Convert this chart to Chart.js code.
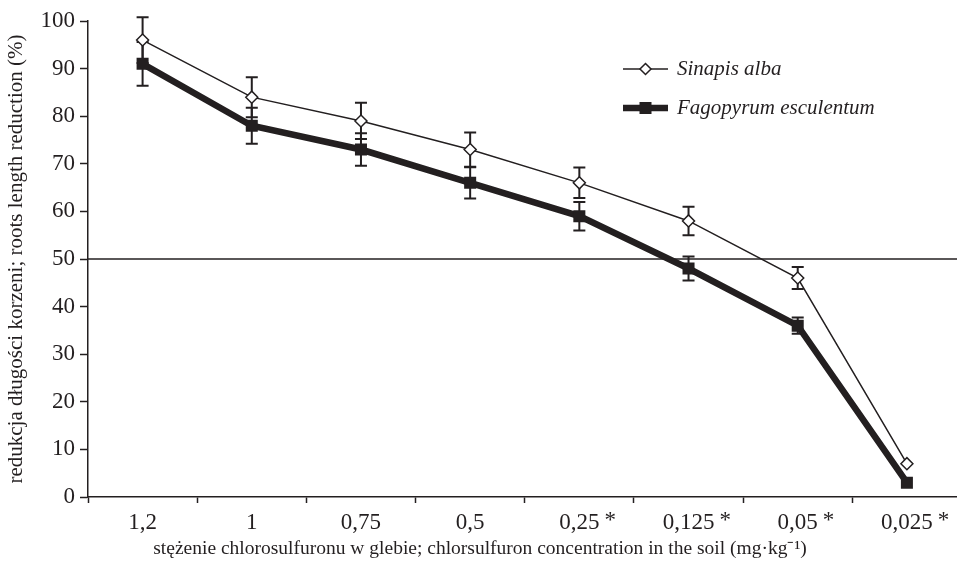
<!DOCTYPE html>
<html>
<head>
<meta charset="utf-8">
<script src="https://cdn.jsdelivr.net/npm/chart.js@4/dist/chart.umd.min.js"></script>
<style>
    html, body { margin: 0; padding: 0; background: #fff; overflow: hidden; }
    #wrap { width: 957px; height: 574px; overflow: hidden; }
</style>
</head>
<body>
<div id="wrap"><canvas id="rootChart" width="970" height="574"></canvas></div>
<script>
// Chart data
const concentrations = ['1,2', '1', '0,75', '0,5', '0,25 *', '0,125 *', '0,05 *', '0,025 *'];
const sinapisValues = [96, 84, 79, 73, 66, 58, 46, 7];
const sinapisErrors = [4.8, 4.2, 3.8, 3.6, 3.2, 3.0, 2.3, 0];
const fagopyrumValues = [91, 78, 73, 66, 59, 48, 36, 3];
const fagopyrumErrors = [4.6, 3.8, 3.4, 3.3, 3.0, 2.5, 1.7, 0];
const yTicks = [0, 10, 20, 30, 40, 50, 60, 70, 80, 90, 100];
const thresholdValue = 50;

const INK = '#231f20';
const SERIF = '"Liberation Serif", "Times New Roman", serif';
const TICK_SIZE = 23;
const xTitle = 'stężenie chlorosulfuronu w glebie; chlorsulfuron concentration in the soil (mg·kg⁻¹)';

// Error bars, drawn under the markers
const errorBarPlugin = {
    id: 'errorBars',
    beforeDatasetsDraw(chart) {
        const { ctx, scales: { x, y } } = chart;
        const series = [
            { values: sinapisValues, errors: sinapisErrors },
            { values: fagopyrumValues, errors: fagopyrumErrors }
        ];
        ctx.save();
        ctx.strokeStyle = INK;
        ctx.lineWidth = 2;
        series.forEach(s => {
            s.values.forEach((v, i) => {
                const e = s.errors[i];
                if (!e) return;
                const px = x.getPixelForValue(i);
                const top = y.getPixelForValue(v + e);
                const bottom = y.getPixelForValue(v - e);
                ctx.beginPath();
                ctx.moveTo(px, top);
                ctx.lineTo(px, bottom);
                ctx.moveTo(px - 6, top);
                ctx.lineTo(px + 6, top);
                ctx.moveTo(px - 6, bottom);
                ctx.lineTo(px + 6, bottom);
                ctx.stroke();
            });
        });
        ctx.restore();
    }
};

// 50% reference line across the plot
const thresholdPlugin = {
    id: 'threshold',
    beforeDatasetsDraw(chart) {
        const { ctx, chartArea, scales: { y } } = chart;
        const py = y.getPixelForValue(thresholdValue);
        ctx.save();
        ctx.strokeStyle = INK;
        ctx.lineWidth = 1.5;
        ctx.beginPath();
        ctx.moveTo(chartArea.left, py);
        ctx.lineTo(chartArea.right, py);
        ctx.stroke();
        ctx.restore();
    }
};

// Asterisks hanging after the centred numbers, plus the x title
const xLabelPlugin = {
    id: 'xExtras',
    afterDraw(chart) {
        const { ctx, scales: { x } } = chart;
        ctx.save();
        ctx.fillStyle = INK;
        ctx.font = TICK_SIZE + 'px ' + SERIF;
        ctx.textBaseline = 'top';
        ctx.textAlign = 'left';
        concentrations.forEach((lab, i) => {
            if (!lab.includes('*')) return;
            const num = lab.replace(' *', '');
            const w = ctx.measureText(num).width;
            ctx.fillText('*', x.getPixelForValue(i) + w / 2 + 5, x.top + 12);
        });
        ctx.font = '19.5px ' + SERIF;
        ctx.textAlign = 'center';
        ctx.textBaseline = 'middle';
        ctx.fillText(xTitle, 480, 549);
        ctx.restore();
    }
};

// Legend inside the plot, top right
const legendPlugin = {
    id: 'insideLegend',
    afterDraw(chart) {
        const { ctx } = chart;
        const rows = [
            { label: 'Sinapis alba', y: 69, width: 1.5, marker: 'diamond' },
            { label: 'Fagopyrum esculentum', y: 108, width: 6.5, marker: 'square' }
        ];
        ctx.save();
        rows.forEach(r => {
            ctx.strokeStyle = INK;
            ctx.lineWidth = r.width;
            ctx.beginPath();
            ctx.moveTo(623, r.y);
            ctx.lineTo(668, r.y);
            ctx.stroke();
            const cx = 645.5;
            ctx.lineWidth = 1.5;
            if (r.marker === 'diamond') {
                ctx.fillStyle = '#fff';
                ctx.beginPath();
                ctx.moveTo(cx, r.y - 5.5);
                ctx.lineTo(cx + 5.5, r.y);
                ctx.lineTo(cx, r.y + 5.5);
                ctx.lineTo(cx - 5.5, r.y);
                ctx.closePath();
                ctx.fill();
                ctx.stroke();
            } else {
                ctx.fillStyle = INK;
                ctx.fillRect(cx - 6, r.y - 6, 12, 12);
            }
            ctx.fillStyle = INK;
            ctx.font = 'italic 21px ' + SERIF;
            ctx.textBaseline = 'middle';
            ctx.textAlign = 'left';
            ctx.fillText(r.label, 677, r.y);
        });
        ctx.restore();
    }
};

const ctx = document.getElementById('rootChart');

new Chart(ctx, {
    type: 'line',
    data: {
        labels: concentrations,
        datasets: [
            {
                label: 'Sinapis alba',
                data: sinapisValues,
                borderColor: INK,
                borderWidth: 1.5,
                pointStyle: 'rectRot',
                pointRadius: 6,
                pointBackgroundColor: '#fff',
                pointBorderColor: INK,
                pointBorderWidth: 1.5,
                tension: 0
            },
            {
                label: 'Fagopyrum esculentum',
                data: fagopyrumValues,
                borderColor: INK,
                borderWidth: 6.5,
                pointStyle: 'rect',
                pointRadius: 8.5,
                pointBackgroundColor: INK,
                pointBorderColor: INK,
                pointBorderWidth: 0,
                tension: 0
            }
        ]
    },
    options: {
        responsive: false,
        animation: false,
        devicePixelRatio: 1,
        layout: { padding: { top: 21, right: 8, left: 0, bottom: 0 } },
        plugins: {
            legend: { display: false },
            tooltip: { enabled: false }
        },
        scales: {
            x: {
                type: 'category',
                offset: true,
                afterFit(scale) { scale.height = 77; },
                grid: {
                    offset: true,
                    drawOnChartArea: false,
                    drawTicks: true,
                    tickLength: 6,
                    tickWidth: 1.5,
                    tickColor: INK
                },
                border: { display: true, color: INK, width: 1.5 },
                ticks: {
                    color: INK,
                    font: { family: SERIF, size: TICK_SIZE },
                    padding: 6,
                    maxRotation: 0,
                    autoSkip: false,
                    callback(value) { return this.getLabelForValue(value).replace(' *', ''); }
                },
                title: { display: false }
            },
            y: {
                min: 0,
                max: 100,
                afterFit(scale) { scale.width = 88; },
                afterBuildTicks(scale) { scale.ticks = yTicks.map(v => ({ value: v })); },
                grid: {
                    drawOnChartArea: false,
                    drawTicks: true,
                    tickLength: 8,
                    tickWidth: 1.5,
                    tickColor: INK
                },
                border: { display: true, color: INK, width: 1.5 },
                ticks: {
                    color: INK,
                    font: { family: SERIF, size: TICK_SIZE },
                    padding: 5
                },
                title: {
                    display: true,
                    text: 'redukcja długości korzeni; roots length reduction (%)',
                    color: INK,
                    font: { family: SERIF, size: 21 },
                    padding: { top: 4, bottom: 0 }
                }
            }
        }
    },
    plugins: [thresholdPlugin, errorBarPlugin, xLabelPlugin, legendPlugin]
});
</script>
</body>
</html>
